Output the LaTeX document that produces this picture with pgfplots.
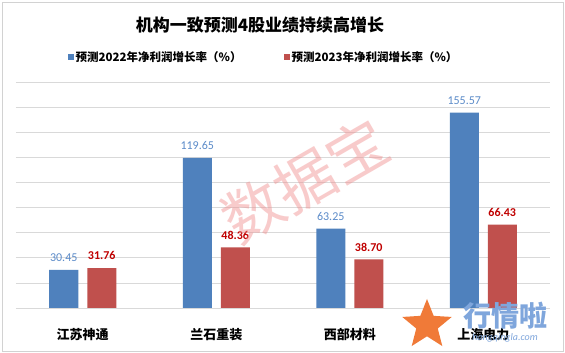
\documentclass[border=0pt]{standalone}
\usepackage{fontspec}
\setmainfont{Carlito}
\newfontfamily\cjk{Noto Sans CJK SC}
\usepackage{pgfplots}
\pgfplotsset{compat=1.18}
\usetikzlibrary{shapes.geometric}
\definecolor{cblue}{HTML}{4F81BD}
\definecolor{cred}{HTML}{C0504D}
\definecolor{lblue}{HTML}{5B8BC9}
\definecolor{lred}{HTML}{C00000}
\definecolor{wm}{HTML}{F08C8C}
\definecolor{logob}{HTML}{7FA6DC}
\definecolor{logoo}{HTML}{F07A38}
\begin{document}
\begin{tikzpicture}[x=1pt,y=1pt]
\path[fill=white] (0,0) rectangle (565,353);
\draw[gray!35, line width=0.8pt] (2,2) rectangle (563,351);
\node[font=\cjk\bfseries\fontsize{17}{17}\selectfont] at (260,328) {机构一致预测4股业绩持续高增长};
\begin{axis}[at={(16pt,45pt)}, anchor=south west, scale only axis,
  width=534pt, height=226pt,
  ybar=9pt, bar width=29pt,
  xmin=-0.5, xmax=3.5, ymin=0, ymax=180,
  ytick={0,20,...,180}, yticklabels={},
  ymajorgrids, grid style={gray!30, line width=0.6pt},
  axis line style={draw=none}, tick style={draw=none},
  xtick={0,1,2,3},
  xticklabels={江苏神通,兰石重装,西部材料,上海电力},
  xticklabel style={font=\cjk\bfseries\fontsize{13}{13}\selectfont, anchor=center, yshift=-22pt},
  /pgf/number format/assume math mode=true,
  nodes near coords,
  point meta=y,
  nodes near coords={\pgfmathprintnumber[fixed,fixed zerofill,precision=2]{\pgfplotspointmeta}},
  legend style={at={(0.4635,1.1106)}, anchor=center, draw=none, fill=none,
    font=\cjk\bfseries\fontsize{11.5}{11.5}\selectfont, legend columns=2,
    /tikz/every even column/.append style={column sep=40pt}},
  legend image code/.code={\fill[#1] (0pt,-3pt) rectangle (6pt,3pt);},
]
\addplot[fill=cblue, draw=none, every node near coord/.append style={font=\fontsize{12}{12}\selectfont, text=lblue, yshift=4.5pt}]
  coordinates {(0,30.45) (1,119.65) (2,63.25) (3,155.57)};
\addlegendentry{预测2022年净利润增长率（\%）}
\addplot[fill=cred, draw=none, every node near coord/.append style={font=\bfseries\fontsize{12}{12}\selectfont, text=lred, yshift=4.5pt}]
  coordinates {(0,31.76) (1,48.36) (2,38.70) (3,66.43)};
\addlegendentry{预测2023年净利润增长率（\%）}
\end{axis}
\node[rotate=30, text=wm, opacity=0.45, font=\cjk\fontsize{60}{60}\selectfont] at (305,172) {数据宝};
\node[star, star points=5, star point ratio=2.3, fill=logoo, minimum size=52pt, inner sep=0pt] at (427,28) {};
\node[text=logob, font=\cjk\bfseries\fontsize{28}{28}\selectfont] at (505,37) {行情啦};
\node[text=logob, font=\itshape\fontsize{10}{10}\selectfont] at (505,15) {hangqingla.com};
\end{tikzpicture}
\end{document}
